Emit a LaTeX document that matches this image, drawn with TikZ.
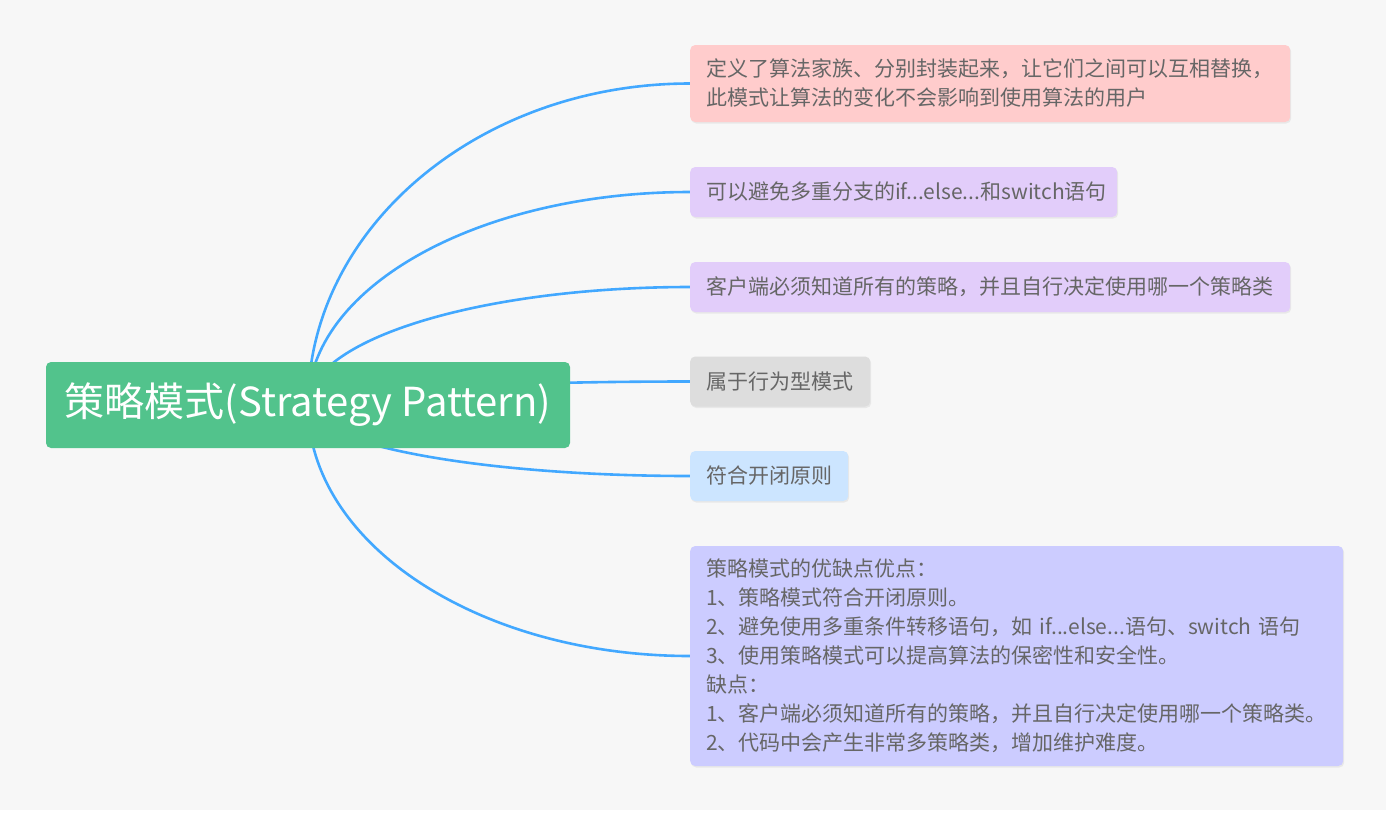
\documentclass[tikz,border=0pt]{standalone}
\usepackage{fontspec}
\setmainfont{Noto Sans CJK SC}
\usepackage{tikz}
\usetikzlibrary{shadows}

\definecolor{canvasgray}{HTML}{F7F7F7}
\definecolor{rootgreen}{HTML}{52C38C}
\definecolor{branchblue}{HTML}{42A8FF}
\definecolor{leaftext}{HTML}{666666}
\definecolor{leafpink}{HTML}{FFCCCC}
\definecolor{leafviolet}{HTML}{E2CDFA}
\definecolor{leafgray}{HTML}{DDDDDD}
\definecolor{leafblue}{HTML}{CCE5FF}
\definecolor{leafperi}{HTML}{CCCCFF}

\pgfdeclarelayer{canvas}
\pgfdeclarelayer{background}
\pgfsetlayers{canvas,background,main}

\tikzset{
  topic/.style={fill=rootgreen, text=white, rounded corners=5pt, inner sep=0pt,
    minimum width=524pt, minimum height=86pt, font=\fontsize{40}{46}\selectfont},
  leaf/.style={anchor=west, rounded corners=5pt, inner xsep=16pt, inner ysep=0pt,
    minimum height=50pt, align=left, text=leaftext, font=\fontsize{21}{29}\selectfont,
    drop shadow={opacity=0.12, shadow xshift=1pt, shadow yshift=-1.5pt}},
  branch/.style={draw=branchblue, line width=2.6pt},
}

\begin{document}
\begin{tikzpicture}[x=1pt, y=1pt]
  \useasboundingbox (0,0) rectangle (1395,-815);
  \begin{pgfonlayer}{canvas}
    \fill[white] (0,0) rectangle (1395,-815);
    \fill[canvasgray] (0,0) rectangle (1386,-810);
  \end{pgfonlayer}

  \node[topic] (root) at (308,-405) {策略模式(Strategy Pattern)};

  \node[leaf, fill=leafpink, text width=568pt, minimum height=77pt] (define) at (690,-83.5)
    {定义了算法家族、分别封装起来，让它们之间可以互相替换，\\此模式让算法的变化不会影响到使用算法的用户};
  \node[leaf, fill=leafviolet, text width=395pt] (ifelse) at (690,-192)
    {可以避免多重分支的if...else...和switch语句};
  \node[leaf, fill=leafviolet, text width=568pt] (client) at (690,-287)
    {客户端必须知道所有的策略，并且自行决定使用哪一个策略类};
  \node[leaf, fill=leafgray, text width=148pt] (behave) at (690,-381.5)
    {属于行为型模式};
  \node[leaf, fill=leafblue, text width=126pt] (openclose) at (690,-476)
    {符合开闭原则};
  \node[leaf, fill=leafperi, text width=621pt, minimum height=220pt] (proscons) at (690,-656)
    {策略模式的优缺点优点：\\
     1、策略模式符合开闭原则。\\
     2、避免使用多重条件转移语句，如 if...else...语句、switch 语句\\
     3、使用策略模式可以提高算法的保密性和安全性。\\
     缺点：\\
     1、客户端必须知道所有的策略，并且自行决定使用哪一个策略类。\\
     2、代码中会产生非常多策略类，增加维护难度。};

  \begin{pgfonlayer}{background}
    \draw[branch] (root.center) to[out=90, in=180, out distance=177pt, in distance=211pt] (define.west);
    \draw[branch] (root.center) to[out=90, in=180, out distance=118pt, in distance=211pt] (ifelse.west);
    \draw[branch] (root.center) to[out=90, in=180, out distance=65pt, in distance=211pt] (client.west);
    \draw[branch] (root.center) to[out=90, in=180, out distance=13pt, in distance=211pt] (behave.west);
    \draw[branch] (root.center) to[out=-90, in=180, out distance=39pt, in distance=211pt] (openclose.west);
    \draw[branch] (root.center) to[out=-90, in=180, out distance=139pt, in distance=211pt] (proscons.west);
  \end{pgfonlayer}
\end{tikzpicture}
\end{document}
